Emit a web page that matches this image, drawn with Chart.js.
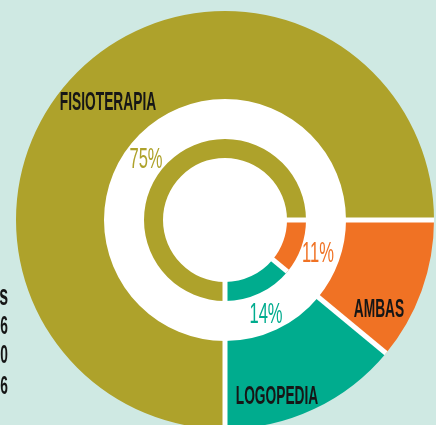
<!DOCTYPE html>
<html>
<head>
<meta charset="utf-8">
<script src="https://cdn.jsdelivr.net/npm/chart.js@4.4.0/dist/chart.umd.min.js"></script>
<style>
  html, body { margin: 0; padding: 0; background: #cfe9e3; overflow: hidden; }
  #wrap { position: absolute; left: 0; top: 0; width: 436px; height: 432px; }
</style>
</head>
<body>
<div id="wrap"><canvas id="myChart" width="436" height="432"></canvas></div>
<script>
var categories = ['FISIOTERAPIA', 'AMBAS', 'LOGOPEDIA'];
var shares = [75, 11, 14];
var shareLabels = ['75%', '11%', '14%'];
var colours = ['#aea22b', '#f07224', '#00ac8e'];
var sideText = ['s', '6', '0', '6'];

// label anchors, offset from the centre of the pie (x centre, baseline)
var nameOffset = [[-117, -110], [154, 97], [52, 184]];
var pctOffset = [[-79, -52], [93, 42], [41, 103]];
var sideBaseline = [305, 334, 363, 394];

function squeezeText(ctx, txt, x, y, font, colour, sx, align) {
    ctx.save();
    ctx.font = font;
    ctx.fillStyle = colour;
    ctx.textAlign = align || 'center';
    ctx.textBaseline = 'alphabetic';
    ctx.translate(x, y);
    ctx.scale(sx, 1);
    ctx.fillText(txt, 0, 0);
    ctx.restore();
}

var extras = {
    id: 'extras',
    beforeDatasetsDraw: function(chart) {
        var outer = chart.getDatasetMeta(0).data[0];
        var ctx = chart.ctx;
        ctx.save();
        ctx.fillStyle = '#ffffff';
        ctx.beginPath();
        ctx.arc(outer.x, outer.y, outer.innerRadius + 1, 0, Math.PI * 2);
        ctx.fill();
        ctx.restore();
    },
    afterDatasetsDraw: function(chart) {
        var ctx = chart.ctx;
        // white gaps between the slices
        [0, 2].forEach(function(i) {
            chart.getDatasetMeta(i).data.forEach(function(arc) {
                var a = arc.startAngle;
                ctx.save();
                ctx.strokeStyle = '#ffffff';
                ctx.lineWidth = 5;
                ctx.beginPath();
                ctx.moveTo(arc.x + Math.cos(a) * (arc.innerRadius - 1), arc.y + Math.sin(a) * (arc.innerRadius - 1));
                ctx.lineTo(arc.x + Math.cos(a) * arc.outerRadius, arc.y + Math.sin(a) * arc.outerRadius);
                ctx.stroke();
                ctx.restore();
            });
        });

        var c = chart.getDatasetMeta(0).data[0];
        var nameFont = 'bold 25px "Liberation Sans", Arial, sans-serif';
        var pctFont = '29px "Liberation Sans", Arial, sans-serif';
        for (var i = 0; i < categories.length; i++) {
            squeezeText(ctx, categories[i], c.x + nameOffset[i][0], c.y + nameOffset[i][1], nameFont, '#161616', 0.55);
            squeezeText(ctx, shareLabels[i], c.x + pctOffset[i][0], c.y + pctOffset[i][1], pctFont, colours[i], 0.57);
        }
        for (var j = 0; j < sideText.length; j++) {
            var f = j == 0 ? 'bold 29px "Liberation Sans", Arial, sans-serif'
                           : 'bold 25px "Liberation Sans", Arial, sans-serif';
            squeezeText(ctx, sideText[j], 8, sideBaseline[j], f, '#161616', 0.55, 'right');
        }
    }
};

var ctx = document.getElementById('myChart').getContext('2d');
var chart = new Chart(ctx, {
    type: 'doughnut',
    data: {
        labels: categories,
        datasets: [{
            data: shares,
            backgroundColor: colours,
            borderWidth: 0,
            weight: 88
        }, {
            // empty white band between the pie and the inner ring
            data: [1],
            backgroundColor: 'rgba(0,0,0,0)',
            borderWidth: 0,
            weight: 40
        }, {
            data: shares,
            backgroundColor: colours,
            borderWidth: 0,
            weight: 19
        }]
    },
    options: {
        responsive: false,
        animation: false,
        events: [],
        rotation: 180,
        cutout: 62,
        layout: { padding: { left: 16, top: 11, right: 2, bottom: 3 } },
        plugins: {
            legend: { display: false },
            tooltip: { enabled: false }
        }
    },
    plugins: [extras]
});
</script>
</body>
</html>
